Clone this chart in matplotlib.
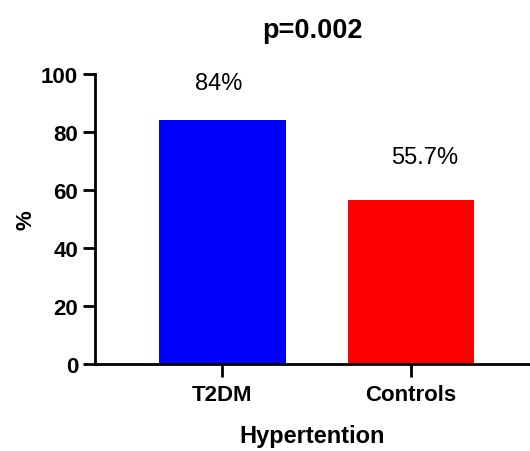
import matplotlib
matplotlib.use("Agg")
import matplotlib.pyplot as plt

plt.rcParams['font.family'] = ['Liberation Sans', 'DejaVu Sans']

groups = ['T2DM', 'Controls']
values = [84, 56.5]
value_labels = ['84%', '55.7%']
colors = ['#0000ff', '#ff0000']

fig = plt.figure(figsize=(5.3, 4.52), dpi=100)
ax = fig.add_axes([0.179, 0.192, 0.821, 0.642])

x = range(len(groups))
ax.bar(x, values, width=0.67, color=colors)

# label positions nudged to match the original layout
dx = [-0.02, 0.07]
dy = [13, 15]
for i, (v, lab) in enumerate(zip(values, value_labels)):
    ax.text(i + dx[i], v + dy[i], lab, ha='center', va='center',
            fontsize=17, clip_on=False)

ax.set_xlim(-0.675, 1.63)
ax.set_ylim(0, 100)
ax.set_yticks([0, 20, 40, 60, 80, 100])
ax.set_xticks(list(x))
ax.set_xticklabels(groups)

for lbl in ax.get_xticklabels() + ax.get_yticklabels():
    lbl.set_fontweight('bold')
    lbl.set_fontsize(16)

ax.spines['top'].set_visible(False)
ax.spines['right'].set_visible(False)
ax.spines['left'].set_linewidth(2)
ax.spines['bottom'].set_linewidth(2)
ax.tick_params(axis='both', width=2, length=9, direction='out', pad=3)
ax.tick_params(axis='x', pad=5)

ax.set_ylabel('%', fontsize=16, fontweight='bold', labelpad=3)
ax.set_xlabel('Hypertention', fontsize=17, fontweight='bold', labelpad=14)
ax.set_title('p=0.002', fontsize=19.5, fontweight='bold', pad=27)

fig.savefig('out.png', dpi=100)
